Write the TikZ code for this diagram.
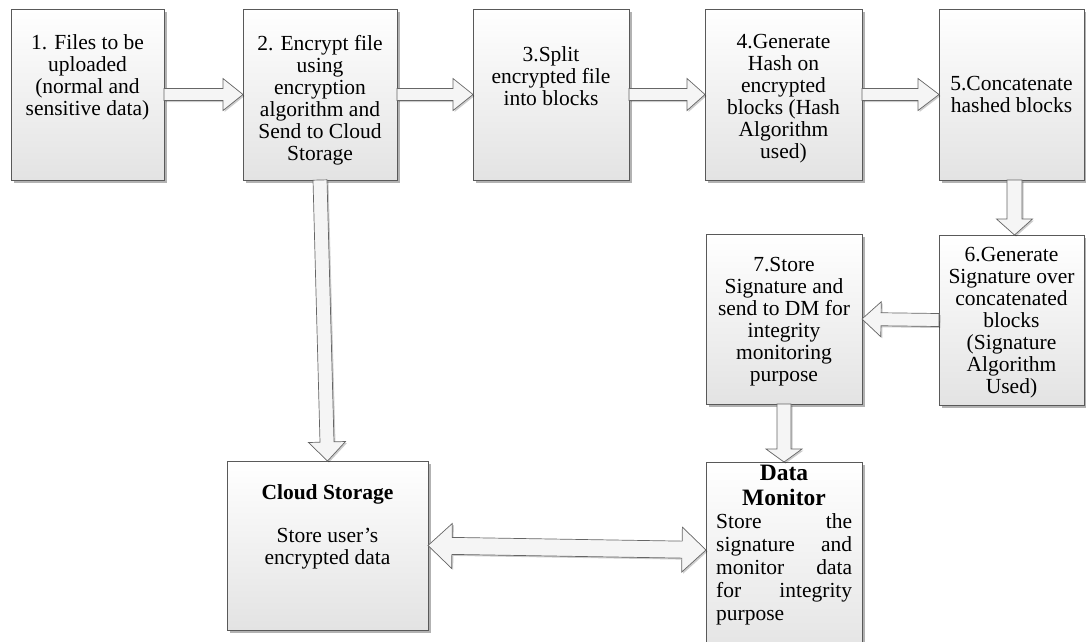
\documentclass[tikz,border=0pt]{standalone}
\usepackage{fontspec}
\setmainfont{Liberation Serif}
\usetikzlibrary{calc,shadows}

\tikzset{
  stepbox/.style={draw=black!65, line width=0.8pt, top color=white, bottom color=black!11,
    drop shadow={shadow xshift=2.5pt, shadow yshift=-2.5pt, opacity=0.3, fill=black},
    anchor=north west, inner sep=0pt, outer sep=0pt},
  boxtext/.style={font=\fontsize{21.5}{22}\selectfont, align=center, inner sep=0pt, anchor=north},
  blockarr/.style={draw=black!60, line width=0.7pt, fill=black!4, line join=miter,
    drop shadow={shadow xshift=1.5pt, shadow yshift=-1.5pt, opacity=0.2, fill=black}},
}

% single block arrow: #1 start, #2 tip, #3 shaft half width, #4 head half width, #5 head length
\newcommand\blockarrow[5]{%
  \path (#1) coordinate (ba-s) (#2) coordinate (ba-e);
  \coordinate (ba-h) at ($(ba-e)!#5!(ba-s)$);
  \draw[blockarr] ($(ba-s)!#3!90:(ba-e)$) -- ($(ba-h)!#3!90:(ba-e)$) -- ($(ba-h)!#4!90:(ba-e)$)
    -- (ba-e) -- ($(ba-h)!#4!-90:(ba-e)$) -- ($(ba-h)!#3!-90:(ba-e)$) -- ($(ba-s)!#3!-90:(ba-e)$) -- cycle;
}
% double-headed block arrow, same arguments
\newcommand\dblockarrow[5]{%
  \path (#1) coordinate (ba-s) (#2) coordinate (ba-e);
  \coordinate (ba-h1) at ($(ba-s)!#5!(ba-e)$);
  \coordinate (ba-h2) at ($(ba-e)!#5!(ba-s)$);
  \draw[blockarr] (ba-s) -- ($(ba-h1)!#4!90:(ba-e)$) -- ($(ba-h1)!#3!90:(ba-e)$)
    -- ($(ba-h2)!#3!90:(ba-e)$) -- ($(ba-h2)!#4!90:(ba-e)$) -- (ba-e)
    -- ($(ba-h2)!#4!-90:(ba-e)$) -- ($(ba-h2)!#3!-90:(ba-e)$)
    -- ($(ba-h1)!#3!-90:(ba-e)$) -- ($(ba-h1)!#4!-90:(ba-e)$) -- cycle;
}

\begin{document}
\begin{tikzpicture}[x=1pt,y=-1pt]
\useasboundingbox (0,0) rectangle (1086,641);
\clip (0,0) rectangle (1086,641);

% process boxes
\node[stepbox, minimum width=153pt, minimum height=171pt] (b1) at (11,9) {};
\node[stepbox, minimum width=154pt, minimum height=171pt] (b2) at (243,9) {};
\node[stepbox, minimum width=156pt, minimum height=171pt] (b3) at (473,9) {};
\node[stepbox, minimum width=157pt, minimum height=171pt] (b4) at (705,9) {};
\node[stepbox, minimum width=145pt, minimum height=171pt] (b5) at (939,9) {};
\node[stepbox, minimum width=145pt, minimum height=170pt] (b6) at (939,235) {};
\node[stepbox, minimum width=156pt, minimum height=170pt] (b7) at (706,234) {};
\node[stepbox, minimum width=201pt, minimum height=169pt] (cs) at (227,461) {};
\node[stepbox, minimum width=156pt, minimum height=200pt] (dm) at (706,462) {};

% box texts
\node[boxtext] (t1) at (87.5,34) {1. Files to be\\uploaded\\(normal and\\sensitive data)};
\node[boxtext] (t2) at (320,35) {2. Encrypt file\\using\\encryption\\algorithm and\\Send to Cloud\\Storage};
\node[boxtext] (t3) at (551,46) {3.Split\\encrypted file\\into blocks};
\node[boxtext] (t4) at (783.5,34) {4.Generate\\Hash on\\encrypted\\blocks (Hash\\Algorithm\\used)};
\node[boxtext] (t5) at (1011.5,76) {5.Concatenate\\hashed blocks};
\node[boxtext] (t6) at (1011.5,247) {6.Generate\\Signature over\\concatenated\\blocks\\(Signature\\Algorithm\\Used)};
\node[boxtext] (t7) at (784,257) {7.Store\\Signature and\\send to DM for\\integrity\\monitoring\\purpose};
\node[boxtext] (tcs1) at (327.5,484) {\bfseries Cloud Storage};
\node[boxtext] (tcs2) at (327.5,528) {Store user’s\\encrypted data};
\node[boxtext, font=\fontsize{23.5}{25}\selectfont\bfseries] (tdm1) at (784,465) {Data\\Monitor};
\node[boxtext, anchor=north west, align=left, font=\fontsize{21.5}{23}\selectfont] (tdm2) at (716,513)
  {\hbox to 136pt{Store\hfill the}\\ \hbox to 136pt{signature\hfill and}\\
   \hbox to 136pt{monitor\hfill data}\\ \hbox to 136pt{for\hfill integrity}\\ purpose};

% connectors
\blockarrow{b1.east}{b2.west}{6pt}{16pt}{20pt}
\blockarrow{b2.east}{b3.west}{6pt}{16pt}{20pt}
\blockarrow{b3.east}{b4.west}{6pt}{16pt}{18pt}
\blockarrow{b4.east}{b5.west}{6pt}{16pt}{21pt}
\blockarrow{[xshift=3pt]b5.south}{[xshift=3pt]b6.north}{7.5pt}{18pt}{16pt}
\blockarrow{b6.west}{b7.east}{6.5pt}{17.5pt}{19pt}
\blockarrow{b7.south}{dm.north}{7pt}{18pt}{13pt}
\blockarrow{b2.south}{cs.north}{7pt}{18.5pt}{19pt}
\coordinate (dmport) at (dm.west |- 0,550);
\dblockarrow{cs.east}{dmport}{8.5pt}{22.5pt}{24pt}
\end{tikzpicture}
\end{document}
